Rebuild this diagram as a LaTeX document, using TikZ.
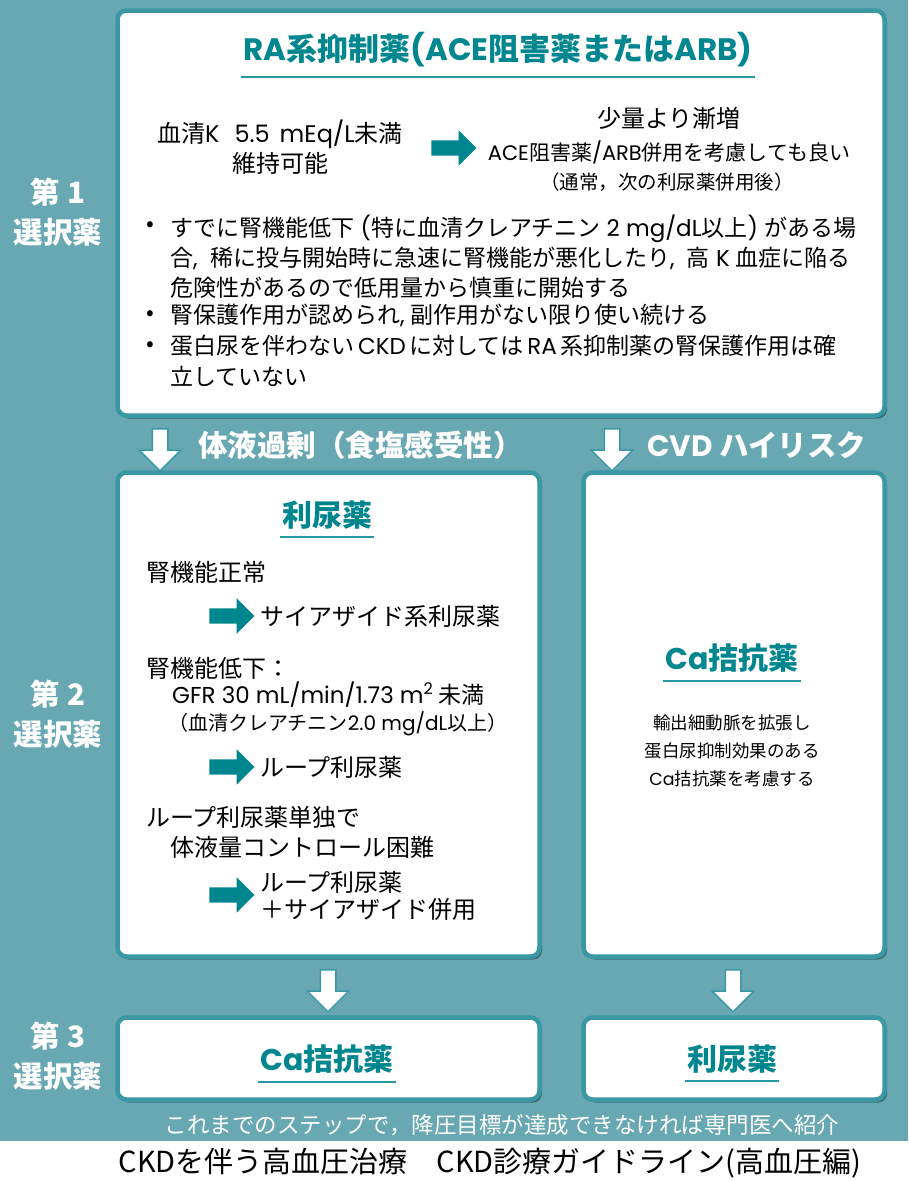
\documentclass[tikz,border=0pt]{standalone}
\usepackage{fontspec}
\usepackage{graphicx}
\setmainfont{Noto Sans CJK JP}
\newfontfamily\latfont{Poppins}
\newcommand{\enx}[1]{{\latfont #1}}
\usetikzlibrary{shapes.arrows,shadows}
\definecolor{bgteal}{HTML}{68A8B2}
\definecolor{frameteal}{HTML}{3A98A4}
\definecolor{inkteal}{HTML}{00868F}
\definecolor{shadowteal}{HTML}{2E5C63}
\newcommand{\fs}[2]{\fontsize{#1}{#2}\selectfont}
\begin{document}
\begin{tikzpicture}[x=1pt, y=-1pt,
  box/.style={draw=frameteal, line width=4.5pt, fill=white, rounded corners=9pt,
    drop shadow={shadow xshift=2.5pt, shadow yshift=-3pt, fill=shadowteal, opacity=.8}},
  title/.style={text=inkteal, font=\fs{30}{34}\bfseries, inner sep=0pt},
  uline/.style={inkteal!85, line width=2pt},
  body/.style={font=\fs{23}{30}, inner sep=0pt, align=left},
  small/.style={font=\fs{19}{27}, inner sep=0pt},
  side/.style={text=white, font=\fs{29.5}{40}\bfseries, align=center, inner sep=0pt},
  darrow/.style={single arrow, shape border rotate=270, fill=white, draw=frameteal, line width=1.5pt,
    minimum height=42pt, minimum width=40pt, single arrow head extend=13pt, inner sep=7pt},
  rarrow/.style={single arrow, fill=inkteal, minimum height=45pt, minimum width=35pt,
    single arrow head extend=10pt, inner sep=7.5pt}
]
\useasboundingbox (0,0) rectangle (908,1181);
\fill[bgteal] (0,0) rectangle (908,1141);

% boxes
\node[box, minimum width=767pt, minimum height=405pt] (first) at (501,213) {};
\node[box, minimum width=422pt, minimum height=484pt] (diur) at (328.5,714.5) {};
\node[box, minimum width=301pt, minimum height=484pt] (cvd) at (734,714.5) {};
\node[box, minimum width=422pt, minimum height=82pt] (thirdl) at (328.5,1058.5) {};
\node[box, minimum width=301pt, minimum height=82pt] (thirdr) at (734,1058.5) {};

% step labels
\node[side] (step1) at (58,212) {第 1\\選択薬};
\node[side] (step2) at (58,714) {第 2\\選択薬};
\node[side] (step3) at (58,1056) {第 3\\選択薬};

% first choice
\node[title, font=\fs{31}{34}\bfseries] (ratitle) at (498,50) {\enx{RA}系抑制薬\enx{(ACE}阻害薬または\enx{ARB)}};
\draw[uline] ([xshift=-2pt,yshift=-9pt]ratitle.south west) -- ([xshift=2pt,yshift=-9pt]ratitle.south east);
\node[body, font=\fs{24}{27}] (kcond) at (280,134) {血清\enx{K\hspace{15pt}5.5\hspace{10pt}mEq/L}未満};
\node[body, font=\fs{24}{27}] (kkeep) at (280,163) {維持可能};
\node[rarrow] (r1) at (450,148) {};
\node[body, font=\fs{24}{30}] (slow) at (669,118) {少量より漸増};
\node[small, font=\fs{21}{27}] (combo) at (669,152) {\enx{ACE}阻害薬\enx{/ARB}併用を考慮しても良い};
\node[small, font=\fs{19.5}{24}] (note) at (667,182) {（通常，次の利尿薬併用後）};
\node[body] (dot1) at (150,227) {•};
\node[body] (dot2) at (150,316) {•};
\node[body] (dot3) at (150,347) {•};
\node[body, anchor=north west] (b1) at (170,215) {すでに腎機能低下\enx{ (}特に血清クレアチニン\enx{ 2 mg/dL}以上\enx{) }がある場\\合\enx{,\ \ }稀に投与開始時に急速に腎機能が悪化したり\enx{,\ \ }高\enx{ K }血症に陥る\\危険性があるので低用量から慎重に開始する};
\node[body, anchor=north west] (b2) at (170,304) {腎保護作用が認められ\enx{, }副作用がない限り使い続ける};
\node[body, anchor=north west, font=\fs{23}{31}] (b3) at (170,335) {蛋白尿を伴わない\enx{\,CKD\,}に対しては\enx{\,RA\,}系抑制薬の腎保護作用は確\\立していない};

% transitions
\node[darrow] (d1) at (160,446) {};
\node[darrow] (d2) at (612,446) {};
\node[side, anchor=west] (fluid) at (198,445) {体液過剰（食塩感受性）};
\node[side, anchor=west] (cvdrisk) at (647,445) {\enx{CVD} ハイリスク};

% diuretics
\node[title] (diurtitle) at (327,515) {利尿薬};
\draw[uline] ([xshift=-2pt,yshift=-8pt]diurtitle.south west) -- ([xshift=2pt,yshift=-8pt]diurtitle.south east);
\node[body, font=\fs{24}{30}, anchor=west] (normal) at (146,572) {腎機能正常};
\node[rarrow] (r2) at (228,616) {};
\node[body, font=\fs{24}{30}, anchor=west] (thiazide) at (260,616) {サイアザイド系利尿薬};
\node[body, font=\fs{24}{30}, anchor=west] (low) at (146,668) {腎機能低下：};
\node[body, font=\fs{23}{30}, anchor=west] (gfr) at (172,695) {\enx{GFR\ 30 mL/min/1.73 m\textsuperscript{2}} 未満};
\node[small, font=\fs{20}{26}, anchor=west] (cre) at (168,724) {（血清クレアチニン\enx{2.0 mg/dL}以上）};
\node[rarrow] (r3) at (228,767) {};
\node[body, font=\fs{24}{30}, anchor=west] (loop) at (260,767) {ループ利尿薬};
\node[body, font=\fs{24}{30}, anchor=west] (alone) at (146,817) {ループ利尿薬単独で};
\node[body, font=\fs{24}{30}, anchor=west] (hard) at (170,847) {体液量コントロール困難};
\node[rarrow] (r4) at (228,895) {};
\node[body, font=\fs{24}{27}, anchor=west] (both) at (260,896) {ループ利尿薬\\＋サイアザイド併用};

% ca blocker
\node[title] (catitle) at (732,658) {\enx{Ca}拮抗薬};
\draw[uline] ([xshift=-2pt,yshift=-8pt]catitle.south west) -- ([xshift=2pt,yshift=-8pt]catitle.south east);
\node[small, font=\fs{17.5}{28}, align=center] (cadesc) at (732,751) {輸出細動脈を拡張し\\蛋白尿抑制効果のある\\\enx{Ca}拮抗薬を考慮する};

% third choice
\node[darrow] (d3) at (328,987) {};
\node[darrow] (d4) at (733,987) {};
\node[title] (ca3) at (327,1059) {\enx{Ca}拮抗薬};
\draw[uline] ([xshift=-2pt,yshift=-8pt]ca3.south west) -- ([xshift=2pt,yshift=-8pt]ca3.south east);
\node[title] (diur3) at (732,1059) {利尿薬};
\draw[uline] ([xshift=-2pt,yshift=-8pt]diur3.south west) -- ([xshift=2pt,yshift=-8pt]diur3.south east);

\node[small, text=white, font=\fs{22.5}{26}] (refer) at (502,1125) {これまでのステップで，降圧目標が達成できなければ専門医へ紹介};
\node[small, font=\fs{29}{30}] (caption) at (490,1163) {CKDを伴う高血圧治療　CKD診療ガイドライン(高血圧編)};
\end{tikzpicture}
\end{document}
